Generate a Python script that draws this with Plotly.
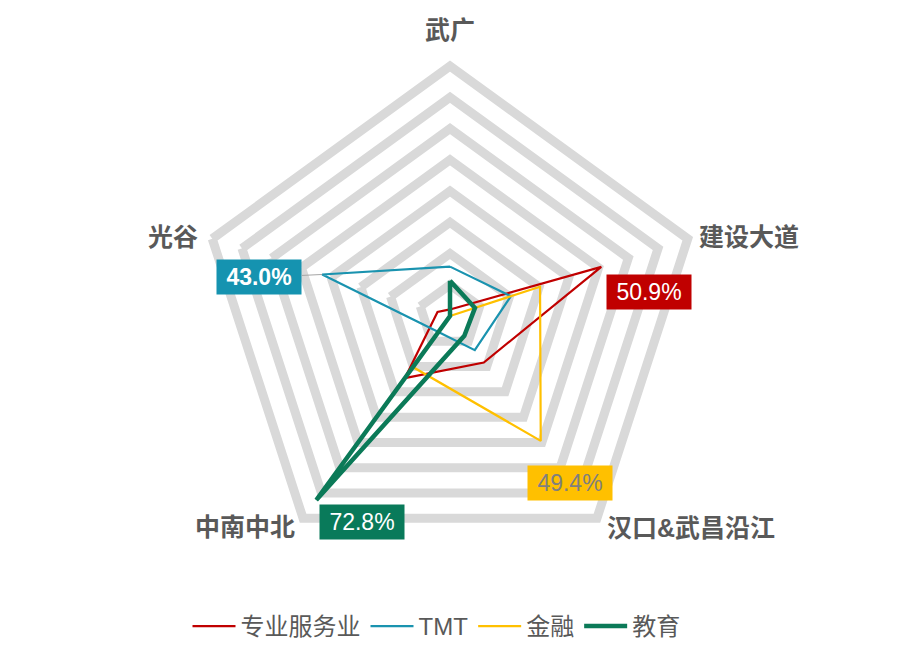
import math
import plotly.graph_objects as go

# categories clockwise from the top
categories = ['武广', '建设大道', '汉口&武昌沿江', '中南中北', '光谷']
series_names = ['专业服务业', 'TMT', '金融', '教育']

prof_services = [0.021, 0.509, 0.184, 0.246, 0.042]
tmt = [0.158, 0.205, 0.135, 0.063, 0.430]
finance = [0.0, 0.303, 0.494, 0.202, 0.0]
education = [0.113, 0.084, 0.078, 0.728, 0.0]

colors = ['#C00000', '#1A93AF', '#FFC000', '#0B7A58']
widths = [2.2, 2.2, 2.2, 4.5]

# which point of each series gets a value label
label_idx = [1, 4, 2, 3]
label_box = ['#C00000', '#1593B0', '#FFC000', '#097A5A']
label_font = ['white', 'white', '#7F7F7F', 'white']
label_bold = [False, True, False, False]
label_shift = [(48, 25), (-63, 3), (29, 42), (46, 22)]  # pixel offset of box from point

# category label placement around the outer ring: anchors and pixel shifts
cat_anchor = [('center', 'bottom'), ('left', 'middle'), ('left', 'middle'),
              ('right', 'middle'), ('right', 'middle')]
cat_shift = [(0, 20), (9, 2), (8, -10), (-6, -9), (-12, 2)]

r_max = 0.8
grid = '#D9D9D9'
txt = '#595959'
fam = 'Arial, Liberation Sans, Noto Sans CJK SC, sans-serif'


def to_paper(v, i):
    # polar domain is the whole (square) plot area, so the centre is (0.5, 0.5), radius 0.5
    phi = math.radians(90 - 72 * i)
    return 0.5 + 0.5 * (v / r_max) * math.cos(phi), 0.5 + 0.5 * (v / r_max) * math.sin(phi)


fig = go.Figure()
all_vals = [prof_services, tmt, finance, education]
for name, vals, c, w in zip(series_names, all_vals, colors, widths):
    fig.add_trace(go.Scatterpolar(
        r=vals + vals[:1], theta=categories + categories[:1],
        mode='lines', name=name, line=dict(color=c, width=w),
        hoverinfo='skip'))

ann = []
for s, vals in enumerate(all_vals):
    i = label_idx[s]
    v = vals[i]
    x, y = to_paper(v, i)
    t = f'{v*100:.1f}%'
    if label_bold[s]:
        t = '<b>' + t + '</b>'
    ann.append(dict(
        x=x, y=y, xref='paper', yref='paper', text=t,
        showarrow=True, arrowhead=0, arrowwidth=1,
        arrowcolor='#A6A6A6' if s == 1 else 'rgba(0,0,0,0)',
        ax=label_shift[s][0], ay=label_shift[s][1],
        bgcolor=label_box[s], width=82, height=32,
        font=dict(family=fam, size=23, color=label_font[s])))

for i, cat in enumerate(categories):
    x, y = to_paper(r_max, i)
    ann.append(dict(
        x=x, y=y, xref='paper', yref='paper', text='<b>' + cat + '</b>',
        showarrow=False, xanchor=cat_anchor[i][0], yanchor=cat_anchor[i][1],
        xshift=cat_shift[i][0], yshift=cat_shift[i][1],
        font=dict(family=fam, size=25, color=txt)))

fig.update_layout(
    width=899, height=671,
    margin=dict(l=192, r=207, t=58, b=113, autoexpand=False),
    paper_bgcolor='white', plot_bgcolor='white',
    polar=dict(
        bgcolor='white', gridshape='linear',
        radialaxis=dict(range=[0, r_max], dtick=0.1, showline=False,
                        showticklabels=False, ticks='', gridcolor=grid, gridwidth=9),
        angularaxis=dict(rotation=90, direction='clockwise', showgrid=False,
                         showline=True, linecolor=grid, linewidth=9, ticks='',
                         showticklabels=False),
    ),
    showlegend=True,
    legend=dict(orientation='h', x=0.473, xanchor='center', y=-0.076, yanchor='top',
                itemwidth=43, font=dict(family=fam, size=24, color=txt)),
    annotations=ann,
)

fig.write_html('out.html')
